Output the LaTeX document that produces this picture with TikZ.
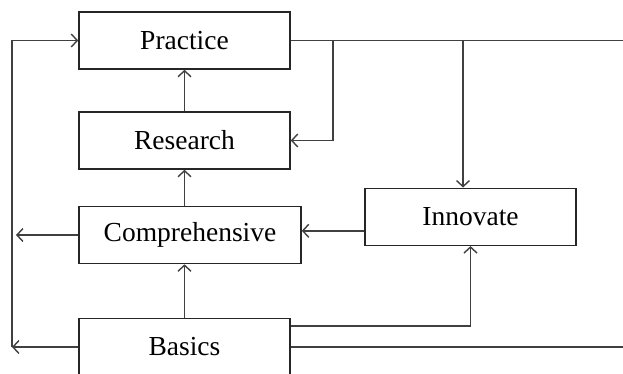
\documentclass[tikz,border=0pt]{standalone}
\usepackage{fontspec}
\setmainfont{Liberation Serif}
\usetikzlibrary{arrows.meta,calc}
\begin{document}
\begin{tikzpicture}[x=1pt,y=-1pt,
  box/.style={draw=black!85,line width=1.6pt,minimum width=211pt,minimum height=57pt,inner sep=0pt,font=\fontsize{27.5}{32}\selectfont},
  conn/.style={draw=black!75,line width=1.5pt},
  arr/.style={conn,-{Straight Barb[length=6pt,width=13pt,line width=1.4pt]}}]
\useasboundingbox (0,0) rectangle (623,374);
\node[box] (Practice) at (184.5,40.5) {Practice};
\node[box] (Research) at (184.5,140.5) {Research};
\node[box,minimum width=222pt] (Comprehensive) at (190,235) {Comprehensive};
\node[box] (Innovate) at (470.5,216.8) {Innovate};
\node[box] (Basics) at (184.5,347) {Basics};
\coordinate (PR) at (623,40.5);
\coordinate (BR) at (623,347);
\coordinate (CL) at (16,235);
\coordinate (BL) at (12,347);
\coordinate (J1) at (333,40.5);
\coordinate (J2) at (463,40.5);
% vertical chain
\draw[arr] (Research.north) -- (Practice.south);
\draw[arr] (Comprehensive.north -| Research.south) -- (Research.south);
\draw[arr] (Basics.north) -- (Basics.north |- Comprehensive.south);
% innovate to comprehensive
\draw[arr] ([yshift=-14pt]Innovate.west) -- ([yshift=-14pt]Innovate.west -| Comprehensive.east);
% comprehensive left
\draw[arr] (Comprehensive.west) -- (CL);
% basics left
\draw[arr] (Basics.west) -- (BL);
\draw[arr] (BL) |- (Practice.west);
% practice right
\draw[conn] (Practice.east) -- (PR);
\draw[arr] (J1) |- (Research.east);
\draw[arr] (J2) -- (J2 |- Innovate.north);
% basics right
\draw[arr] ([yshift=21pt]Basics.east) -| (Innovate.south);
\draw[conn] (Basics.east) -- (BR);
\end{tikzpicture}
\end{document}
